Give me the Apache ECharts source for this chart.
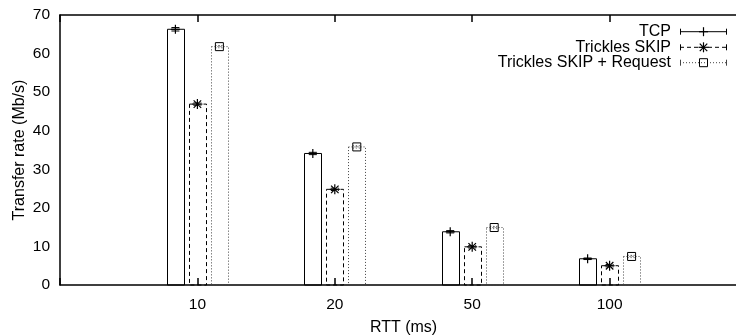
<!DOCTYPE html>
<html>
<head>
<meta charset="utf-8">
<script src="https://cdn.jsdelivr.net/npm/echarts@6/dist/echarts.min.js"></script>
<style>
  html, body { margin: 0; padding: 0; background: #fff; overflow: hidden; }
  #chart { width: 736px; height: 335px; }
</style>
</head>
<body>
<div id="chart"></div>
<script>
// RTT groups on the x axis
const categories = ['10', '20', '50', '100'];

// Transfer rate (Mb/s) and error half-widths per RTT group
const tcp = [66.3, 34.1, 13.8, 6.8];
const tcpErr = [0.45, 0.3, 0.3, 0.2];
const skip = [46.9, 24.8, 9.9, 5.0];
const skipErr = [0.3, 0.3, 0.3, 0.3];
const request = [61.8, 35.8, 14.9, 7.4];
const requestErr = [0.3, 0.3, 0.3, 0.3];

const seriesNames = ['TCP', 'Trickles SKIP', 'Trickles SKIP + Request'];
const yTicks = [0, 10, 20, 30, 40, 50, 60, 70];

const FONT = '"Liberation Sans", Arial, Helvetica, sans-serif';
const dashes = [null, [4, 3], [1, 2]];
const strokes = ['#000', '#000', '#444'];

// draw a point symbol of the given kind centred at (x, y)
function marker(kind, x, y, stroke) {
  const r = 4.5;
  if (kind === 0) {
    return [
      { type: 'line', shape: { x1: x - r, y1: y, x2: x + r, y2: y }, style: { stroke, lineWidth: 1.2 } },
      { type: 'line', shape: { x1: x, y1: y - r, x2: x, y2: y + r }, style: { stroke, lineWidth: 1.2 } }
    ];
  }
  if (kind === 1) {
    const R = 5;
    const d = R * 0.75;
    return [
      { type: 'line', shape: { x1: x - R, y1: y, x2: x + R, y2: y }, style: { stroke, lineWidth: 1.2 } },
      { type: 'line', shape: { x1: x, y1: y - R, x2: x, y2: y + R }, style: { stroke, lineWidth: 1.2 } },
      { type: 'line', shape: { x1: x - d, y1: y - d, x2: x + d, y2: y + d }, style: { stroke, lineWidth: 1.2 } },
      { type: 'line', shape: { x1: x - d, y1: y + d, x2: x + d, y2: y - d }, style: { stroke, lineWidth: 1.2 } }
    ];
  }
  return [
    { type: 'rect', shape: { x: x - 4, y: y - 4, width: 8, height: 8 }, style: { fill: 'none', stroke: '#000', lineWidth: 1 } }
  ];
}

function makeRender(k) {
  return function (params, api) {
    const pos = api.value(0);
    const val = api.value(1);
    const err = api.value(2);
    const unit = api.size([1, 0])[0];
    const cx = api.coord([pos, 0])[0] + (k - 1) * unit * 0.16;
    const w = unit * 0.124;
    const base = api.coord([pos, 0])[1];
    const top = api.coord([pos, val])[1];
    const hi = api.coord([pos, val + err])[1];
    const lo = api.coord([pos, val - err])[1];
    const stroke = strokes[k];
    const lineDash = dashes[k];
    const cap = 4;
    const children = [
      { type: 'rect', shape: { x: Math.round(cx - w / 2) + 0.5, y: top, width: Math.round(w), height: base - top },
        style: { fill: 'none', stroke, lineWidth: 1, lineDash } },
      { type: 'line', shape: { x1: cx, y1: hi, x2: cx, y2: lo }, style: { stroke, lineWidth: 1, lineDash } },
      { type: 'line', shape: { x1: cx - cap, y1: hi, x2: cx + cap, y2: hi }, style: { stroke, lineWidth: 1, lineDash } },
      { type: 'line', shape: { x1: cx - cap, y1: lo, x2: cx + cap, y2: lo }, style: { stroke, lineWidth: 1, lineDash } }
    ].concat(marker(k, cx, top, '#000'));
    return { type: 'group', children };
  };
}

const allValues = [tcp, skip, request];
const allErrs = [tcpErr, skipErr, requestErr];

const series = allValues.map((vals, k) => ({
  type: 'custom',
  name: seriesNames[k],
  xAxisIndex: 0,
  renderItem: makeRender(k),
  data: vals.map((v, i) => [i + 1, v, allErrs[k][i]]),
  silent: true
}));

// legend entries: right-aligned text with a sample error-bar line
const legendGraphics = [];
const legendY = [31.7, 47.3, 62.7];
seriesNames.forEach((name, k) => {
  const y = legendY[k];
  legendGraphics.push({
    type: 'text', x: 671, y: y,
    style: { text: name, font: '16px ' + FONT, fill: '#000', textAlign: 'right', textVerticalAlign: 'middle' }
  });
  legendGraphics.push({ type: 'line', shape: { x1: 680, y1: y, x2: 727, y2: y },
    style: { stroke: strokes[k], lineWidth: 1, lineDash: dashes[k] } });
  legendGraphics.push({ type: 'line', shape: { x1: 680.5, y1: y - 3, x2: 680.5, y2: y + 3 },
    style: { stroke: strokes[k], lineWidth: 1 } });
  legendGraphics.push({ type: 'line', shape: { x1: 726.5, y1: y - 3, x2: 726.5, y2: y + 3 },
    style: { stroke: strokes[k], lineWidth: 1 } });
  legendGraphics.push({ type: 'group', children: marker(k, 703.5, y, '#000') });
});

const tickText = { fontFamily: FONT, fontSize: 15.5, color: '#000' };
const titleText = { fontFamily: FONT, fontSize: 16, color: '#000' };

const option = {
  backgroundColor: '#fff',
  animation: false,
  // the plot frame extends past the right edge of the canvas
  grid: { left: 60, top: 15, width: 687, height: 270, containLabel: false, outerBoundsMode: 'none' },
  xAxis: [
    {
      type: 'value', position: 'bottom', min: 0, max: 5, interval: 1,
      name: 'RTT (ms)', nameLocation: 'middle', nameGap: 35, nameMoveOverlap: false,
      nameTextStyle: titleText,
      axisLine: { show: true, lineStyle: { color: '#000', width: 1.5 } },
      axisTick: { show: true, inside: true, length: 7, lineStyle: { color: '#000', width: 1.5 } },
      axisLabel: { ...tickText, margin: 12, formatter: v => categories[v - 1] || '' },
      splitLine: { show: false }
    },
    {
      type: 'value', position: 'top', min: 0, max: 5, interval: 1,
      axisLine: { show: true, lineStyle: { color: '#000', width: 1.5 } },
      axisTick: { show: true, inside: true, length: 7, lineStyle: { color: '#000', width: 1.5 } },
      axisLabel: { show: false },
      splitLine: { show: false }
    }
  ],
  yAxis: {
    type: 'value', min: yTicks[0], max: yTicks[yTicks.length - 1], interval: 10,
    name: 'Transfer rate (Mb/s)', nameLocation: 'middle', nameGap: 32, nameRotate: 90,
    nameMoveOverlap: false,
    nameTextStyle: titleText,
    axisLine: { show: true, lineStyle: { color: '#000', width: 1.5 } },
    axisTick: { show: false },
    axisLabel: { ...tickText, margin: 10 },
    splitLine: { show: false }
  },
  graphic: legendGraphics,
  series
};

const chart = echarts.init(document.getElementById('chart'), null, { renderer: 'canvas' });
chart.setOption(option);
</script>
</body>
</html>
